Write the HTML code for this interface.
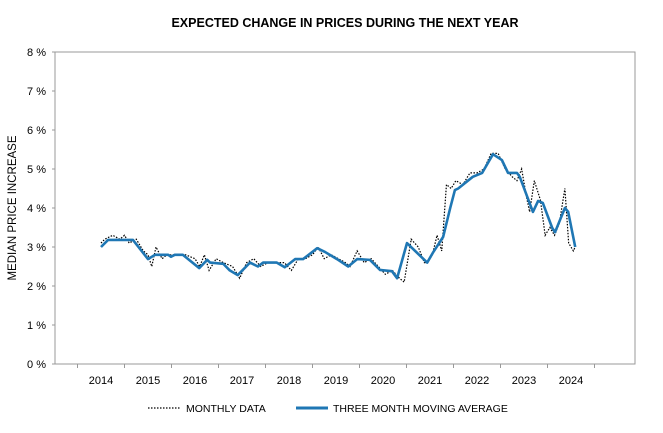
<!DOCTYPE html>
<html><head><meta charset="utf-8"><style>
body{margin:0;background:#fff;font-family:"Liberation Sans",Arial,sans-serif}
svg text{font-family:"Liberation Sans",Arial,sans-serif}
</style></head><body>
<svg id="c" width="663" height="428" xmlns="http://www.w3.org/2000/svg">
<text x="345" y="27" text-anchor="middle" font-size="12.5" font-weight="bold">EXPECTED CHANGE IN PRICES DURING THE NEXT YEAR</text>
<text transform="translate(16,208) rotate(-90)" text-anchor="middle" font-size="11.5">MEDIAN PRICE INCREASE</text>
<rect x="55" y="52" width="580" height="312" fill="none" stroke="#999" stroke-width="1"/>
<g id="axes"></g>
<g id="series"></g>
<g>
<line x1="148" y1="408" x2="180" y2="408" stroke="#000" stroke-width="1.3" stroke-dasharray="1.5,1.5"/>
<text x="186" y="412" font-size="10.5">MONTHLY DATA</text>
<line x1="296" y1="408" x2="328" y2="408" stroke="#1f77b4" stroke-width="3"/>
<text x="333" y="412" font-size="10.5">THREE MONTH MOVING AVERAGE</text>
</g>
</svg>
<script>
const yTicks=[0,1,2,3,4,5,6,7,8];
const xYears=[2014,2015,2016,2017,2018,2019,2020,2021,2022,2023,2024];
const maDates=[2014.0,2014.15,2014.68,2015.0,2015.15,2015.43,2015.49,2015.57,2015.74,2016.09,2016.26,2016.32,2016.6,2016.74,2016.91,2017.17,2017.34,2017.45,2017.74,2017.91,2018.13,2018.3,2018.6,2018.77,2019.02,2019.26,2019.45,2019.72,2019.94,2020.19,2020.3,2020.51,2020.94,2021.06,2021.28,2021.43,2021.53,2021.6,2021.91,2022.11,2022.34,2022.53,2022.66,2022.85,2022.91,2023.19,2023.3,2023.4,2023.6,2023.66,2023.87,2023.94,2024.09];
const maValues=[3.0,3.18,3.18,2.69,2.8,2.8,2.75,2.8,2.8,2.46,2.67,2.6,2.57,2.4,2.28,2.6,2.5,2.6,2.6,2.48,2.69,2.69,2.97,2.87,2.69,2.5,2.69,2.67,2.41,2.38,2.2,3.1,2.6,2.85,3.26,4.0,4.46,4.5,4.8,4.9,5.38,5.23,4.9,4.9,4.8,3.9,4.18,4.13,3.49,3.38,4.0,3.9,3.0];
const moDates=[2014.0,2014.08,2014.25,2014.4,2014.5,2014.6,2014.75,2014.9,2015.0,2015.08,2015.17,2015.3,2015.4,2015.6,2015.8,2016.0,2016.1,2016.2,2016.3,2016.45,2016.6,2016.8,2016.95,2017.1,2017.25,2017.4,2017.55,2017.7,2017.9,2018.05,2018.2,2018.35,2018.5,2018.62,2018.75,2018.9,2019.05,2019.2,2019.3,2019.45,2019.6,2019.75,2019.9,2020.05,2020.2,2020.35,2020.45,2020.6,2020.75,2020.88,2020.95,2021.05,2021.15,2021.25,2021.35,2021.45,2021.55,2021.7,2021.85,2022.0,2022.15,2022.3,2022.45,2022.6,2022.75,2022.85,2022.95,2023.05,2023.12,2023.22,2023.35,2023.45,2023.55,2023.65,2023.75,2023.87,2023.95,2024.05,2024.09];
const moValues=[3.1,3.2,3.3,3.2,3.3,3.1,3.2,2.9,2.8,2.5,3.0,2.7,2.8,2.8,2.8,2.7,2.5,2.8,2.4,2.7,2.6,2.5,2.2,2.6,2.7,2.5,2.6,2.6,2.6,2.4,2.7,2.7,2.8,3.0,2.7,2.8,2.7,2.6,2.5,2.9,2.6,2.7,2.5,2.3,2.4,2.2,2.1,3.2,3.0,2.6,2.6,2.8,3.3,2.9,4.6,4.5,4.7,4.6,4.9,4.9,5.0,5.4,5.4,5.0,4.8,4.7,5.0,4.3,3.9,4.7,4.2,3.3,3.5,3.3,3.6,4.5,3.1,2.9,3.0];
const ns="http://www.w3.org/2000/svg";
const X=t=>101+(t-2014)*47, Y=v=>364-v*39;
const ax=document.getElementById('axes'), sg=document.getElementById('series');
function mk(tag,attrs,parent){const e=document.createElementNS(ns,tag);for(const k in attrs)e.setAttribute(k,attrs[k]);parent.appendChild(e);return e;}
yTicks.forEach(v=>{
  const t=mk('text',{x:46,y:Y(v)+4,'text-anchor':'end','font-size':'11'},ax);t.textContent=v+' %';
  
  
  const l=mk('line',{x1:52,x2:55,y1:Y(v),y2:Y(v),stroke:'#999'},ax);
  
  
});
xYears.forEach(yr=>{
  const t=mk('text',{x:X(yr),y:384,'text-anchor':'middle','font-size':'11'},ax);t.textContent=yr;
  
  
});
for(let yr=2013.5;yr<=2025;yr+=1){
  const l=mk('line',{x1:X(yr),x2:X(yr),y1:364,y2:368,stroke:'#999'},ax);
  
  
}
const mo=mk('polyline',{points:moDates.map((d,i)=>X(d)+','+Y(moValues[i])).join(' '),fill:'none',stroke:'#000','stroke-width':'1.2','stroke-dasharray':'1.5,1.5'},sg);


const ma=mk('polyline',{points:maDates.map((d,i)=>X(d)+','+Y(maValues[i])).join(' '),fill:'none',stroke:'#1f77b4','stroke-width':'2.6','stroke-linejoin':'round'},sg);


</script>
</body></html>
